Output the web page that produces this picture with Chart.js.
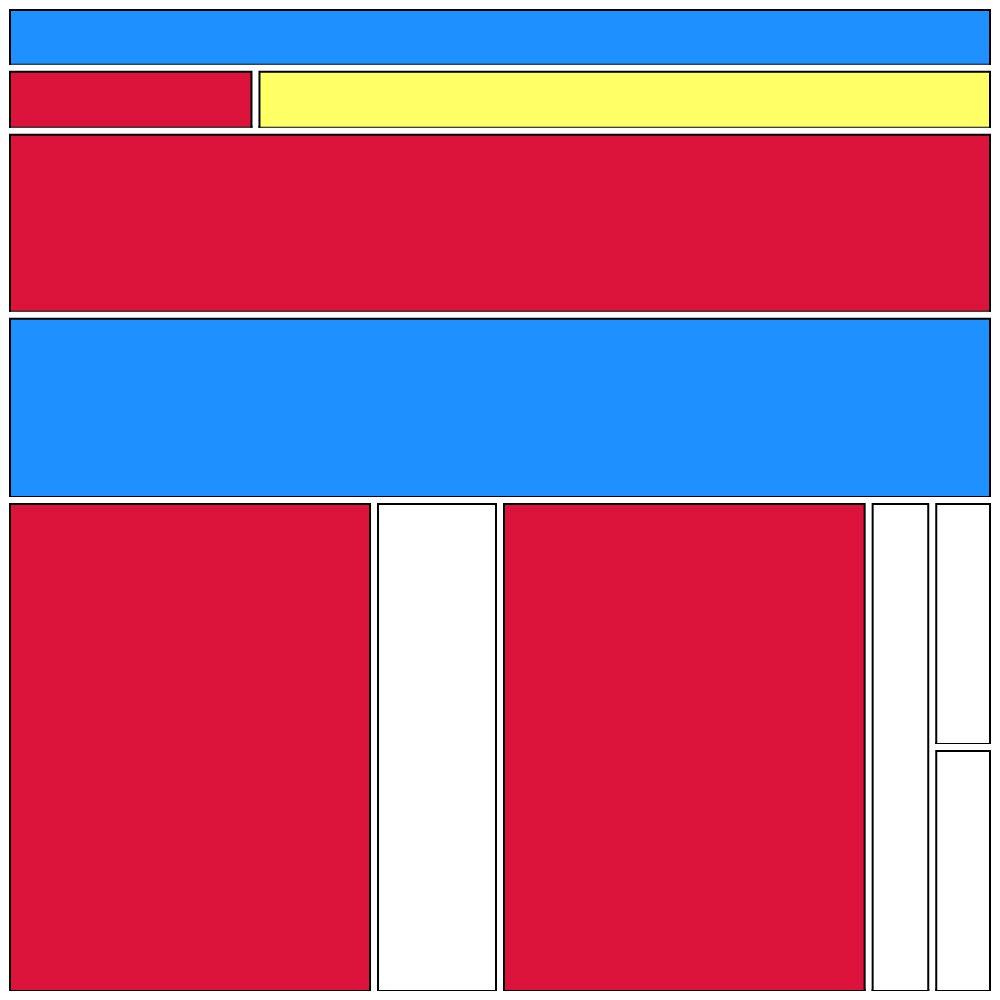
<!DOCTYPE html>
<html>
<head>
<meta charset="utf-8">
<script src="https://cdn.jsdelivr.net/npm/chart.js@4/dist/chart.umd.min.js"></script>
<style>
  html, body { margin: 0; padding: 0; background: #ffffff; }
  #wrap { width: 1000px; height: 1000px; position: relative; }
</style>
</head>
<body>
<div id="wrap"><canvas id="c" width="1000" height="1000"></canvas></div>
<script>
// Treemap cells, in grid units (16 x 16 grid, y counted from the top)
const cellNames  = ['A', 'B', 'C', 'D', 'E', 'F', 'G', 'H', 'I', 'J', 'K'];
const cellX0     = [0,    0,    4.04, 0,    0,    0,    5.96, 8,     13.97, 15, 15];
const cellX1     = [16,   4.04, 16,   16,   16,   5.96, 8,    13.97, 15,    16, 16];
const cellY0     = [0,    1,    1,    2.02, 5,    8,    8,    8,     8,     8,  12];
const cellY1     = [1,    2.02, 2.02, 5,    8,    16,   16,   16,    16,    12, 16];
const cellColour = ['blue', 'red', 'yellow', 'red', 'blue', 'red', 'white', 'red', 'white', 'white', 'white'];

const palette = { blue: '#1E90FF', red: '#DC143C', yellow: '#FFFF66', white: '#FFFFFF' };
const GAP = 4 / 61.75; // half of the white gutter, in grid units

const datasets = [];
cellNames.forEach((name, i) => {
  const x0 = cellX0[i] + GAP, x1 = cellX1[i] - GAP;
  const y0 = cellY0[i] + GAP, y1 = cellY1[i] - GAP;
  // left, top, right edges; filled down to the bottom edge dataset
  datasets.push({
    label: name,
    data: [{x: x0, y: y1}, {x: x0, y: y0}, {x: x1, y: y0}, {x: x1, y: y1}],
    fill: '+1',
    backgroundColor: palette[cellColour[i]],
    borderColor: '#000000',
    borderWidth: 2,
    pointRadius: 0,
    tension: 0,
    borderJoinStyle: 'miter',
    borderCapStyle: 'square'
  });
  // bottom edge
  datasets.push({
    label: name + ' base',
    data: [{x: x0, y: y1}, {x: x1, y: y1}],
    fill: false,
    backgroundColor: palette[cellColour[i]],
    borderColor: '#000000',
    borderWidth: 2,
    pointRadius: 0,
    tension: 0,
    borderCapStyle: 'square'
  });
});

new Chart(document.getElementById('c'), {
  type: 'line',
  data: { datasets },
  options: {
    responsive: false,
    animation: false,
    layout: { padding: 6 },
    plugins: { legend: { display: false }, tooltip: { enabled: false }, title: { display: false } },
    scales: {
      x: { type: 'linear', min: 0, max: 16, display: false },
      y: { type: 'linear', min: 0, max: 16, reverse: true, display: false }
    }
  }
});
</script>
</body>
</html>
